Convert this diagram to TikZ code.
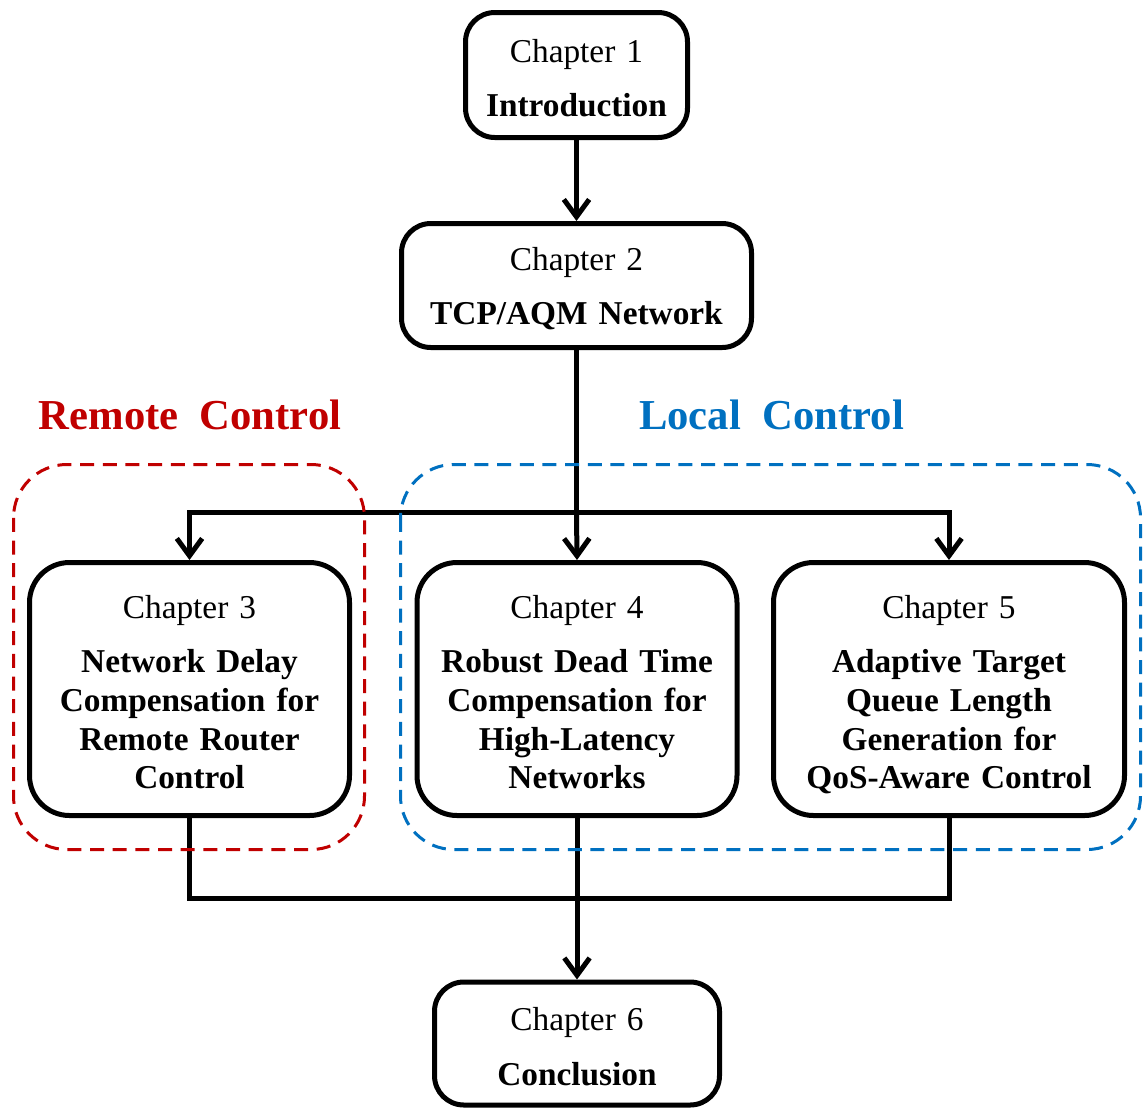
\documentclass[tikz,border=0pt]{standalone}
\usepackage{fontspec}
\setmainfont{Liberation Serif}
\usetikzlibrary{arrows.meta}
\definecolor{remotered}{RGB}{192,0,0}
\definecolor{localblue}{RGB}{0,112,192}
\tikzset{
  chapbox/.style={draw, line width=3.75pt, rounded corners=22pt, align=center,
    inner sep=0pt, font=\fontsize{25}{29}\selectfont},
  bigbox/.style={chapbox, rounded corners=30pt},
  flow/.style={line width=3.75pt, line join=miter},
  flowarrow/.style={flow, -{Straight Barb[length=13pt,width=19pt]}},
  group/.style={line width=2.25pt, dash pattern=on 10.5pt off 6.5pt, rounded corners=40pt},
  grouplabel/.style={font=\fontsize{32}{36}\selectfont\bfseries}
}
% chapter number line (with a top strut), then the bold title lines
\newcommand{\chaptext}[3][22pt]{\rule{0pt}{#1}Chapter #2\\[12pt]\bfseries #3}
\begin{document}
\begin{tikzpicture}[x=0.75pt, y=-0.75pt]
  \useasboundingbox (0,0) rectangle (1147,1108);

  % chapter boxes
  \node[chapbox, minimum width=166.5pt, minimum height=93.75pt, text width=160pt]
    (b1) at (576.5,75) {\chaptext{1}{Introduction}};
  \node[chapbox, minimum width=262.5pt, minimum height=93pt, text width=255pt]
    (b2) at (576.5,285.5) {\chaptext{2}{TCP/AQM Network}};
  \node[bigbox, minimum width=240pt, minimum height=189.75pt, text width=236pt]
    (b3) at (189.5,689) {\chaptext{3}{Network Delay\\Compensation for\\Remote Router\\Control}};
  \node[bigbox, minimum width=240pt, minimum height=189.75pt, text width=236pt]
    (b4) at (577,689) {\chaptext{4}{Robust Dead Time\\Compensation for\\High-Latency\\Networks}};
  \node[bigbox, minimum width=263.25pt, minimum height=189.75pt, text width=260pt]
    (b5) at (949,689) {\chaptext[26pt]{5}{Adaptive Target\\Queue Length\\Generation for\\QoS-Aware Control}};
  \node[chapbox, minimum width=213.75pt, minimum height=92.25pt, text width=205pt]
    (b6) at (577,1043.5) {\chaptext{6}{Conclusion}};

  % group titles
  \node[grouplabel, text=remotered] (remotelbl) at (190,415) {Remote~~Control};
  \node[grouplabel, text=localblue] (locallbl) at (771.5,415) {Local~~Control};

  % bus junctions
  \coordinate (busTop) at (576.5,512);
  \coordinate (busBot) at (576.5,898);

  % connectors
  \draw[flowarrow] (b1.south) -- (b2.north);
  \draw[flow] (b2.south) -- (busTop);
  \draw[flowarrow] (busTop) -- (b4.north);
  \draw[flow, {Straight Barb[length=13pt,width=19pt]}-{Straight Barb[length=13pt,width=19pt]}]
    (b3.north) -- (b3.north |- busTop) -- (b5.north |- busTop) -- (b5.north);
  \draw[flow] (b3.south) -- (b3.south |- busBot) -- (b5.south |- busBot) -- (b5.south);
  \draw[flowarrow] (b4.south) -- (b6.north);

  % dashed groupings
  \draw[group, remotered] (13.5,464.5) rectangle (364.5,849.5);
  \draw[group, localblue] (400.5,464.5) rectangle (1140.5,849.5);
\end{tikzpicture}
\end{document}
